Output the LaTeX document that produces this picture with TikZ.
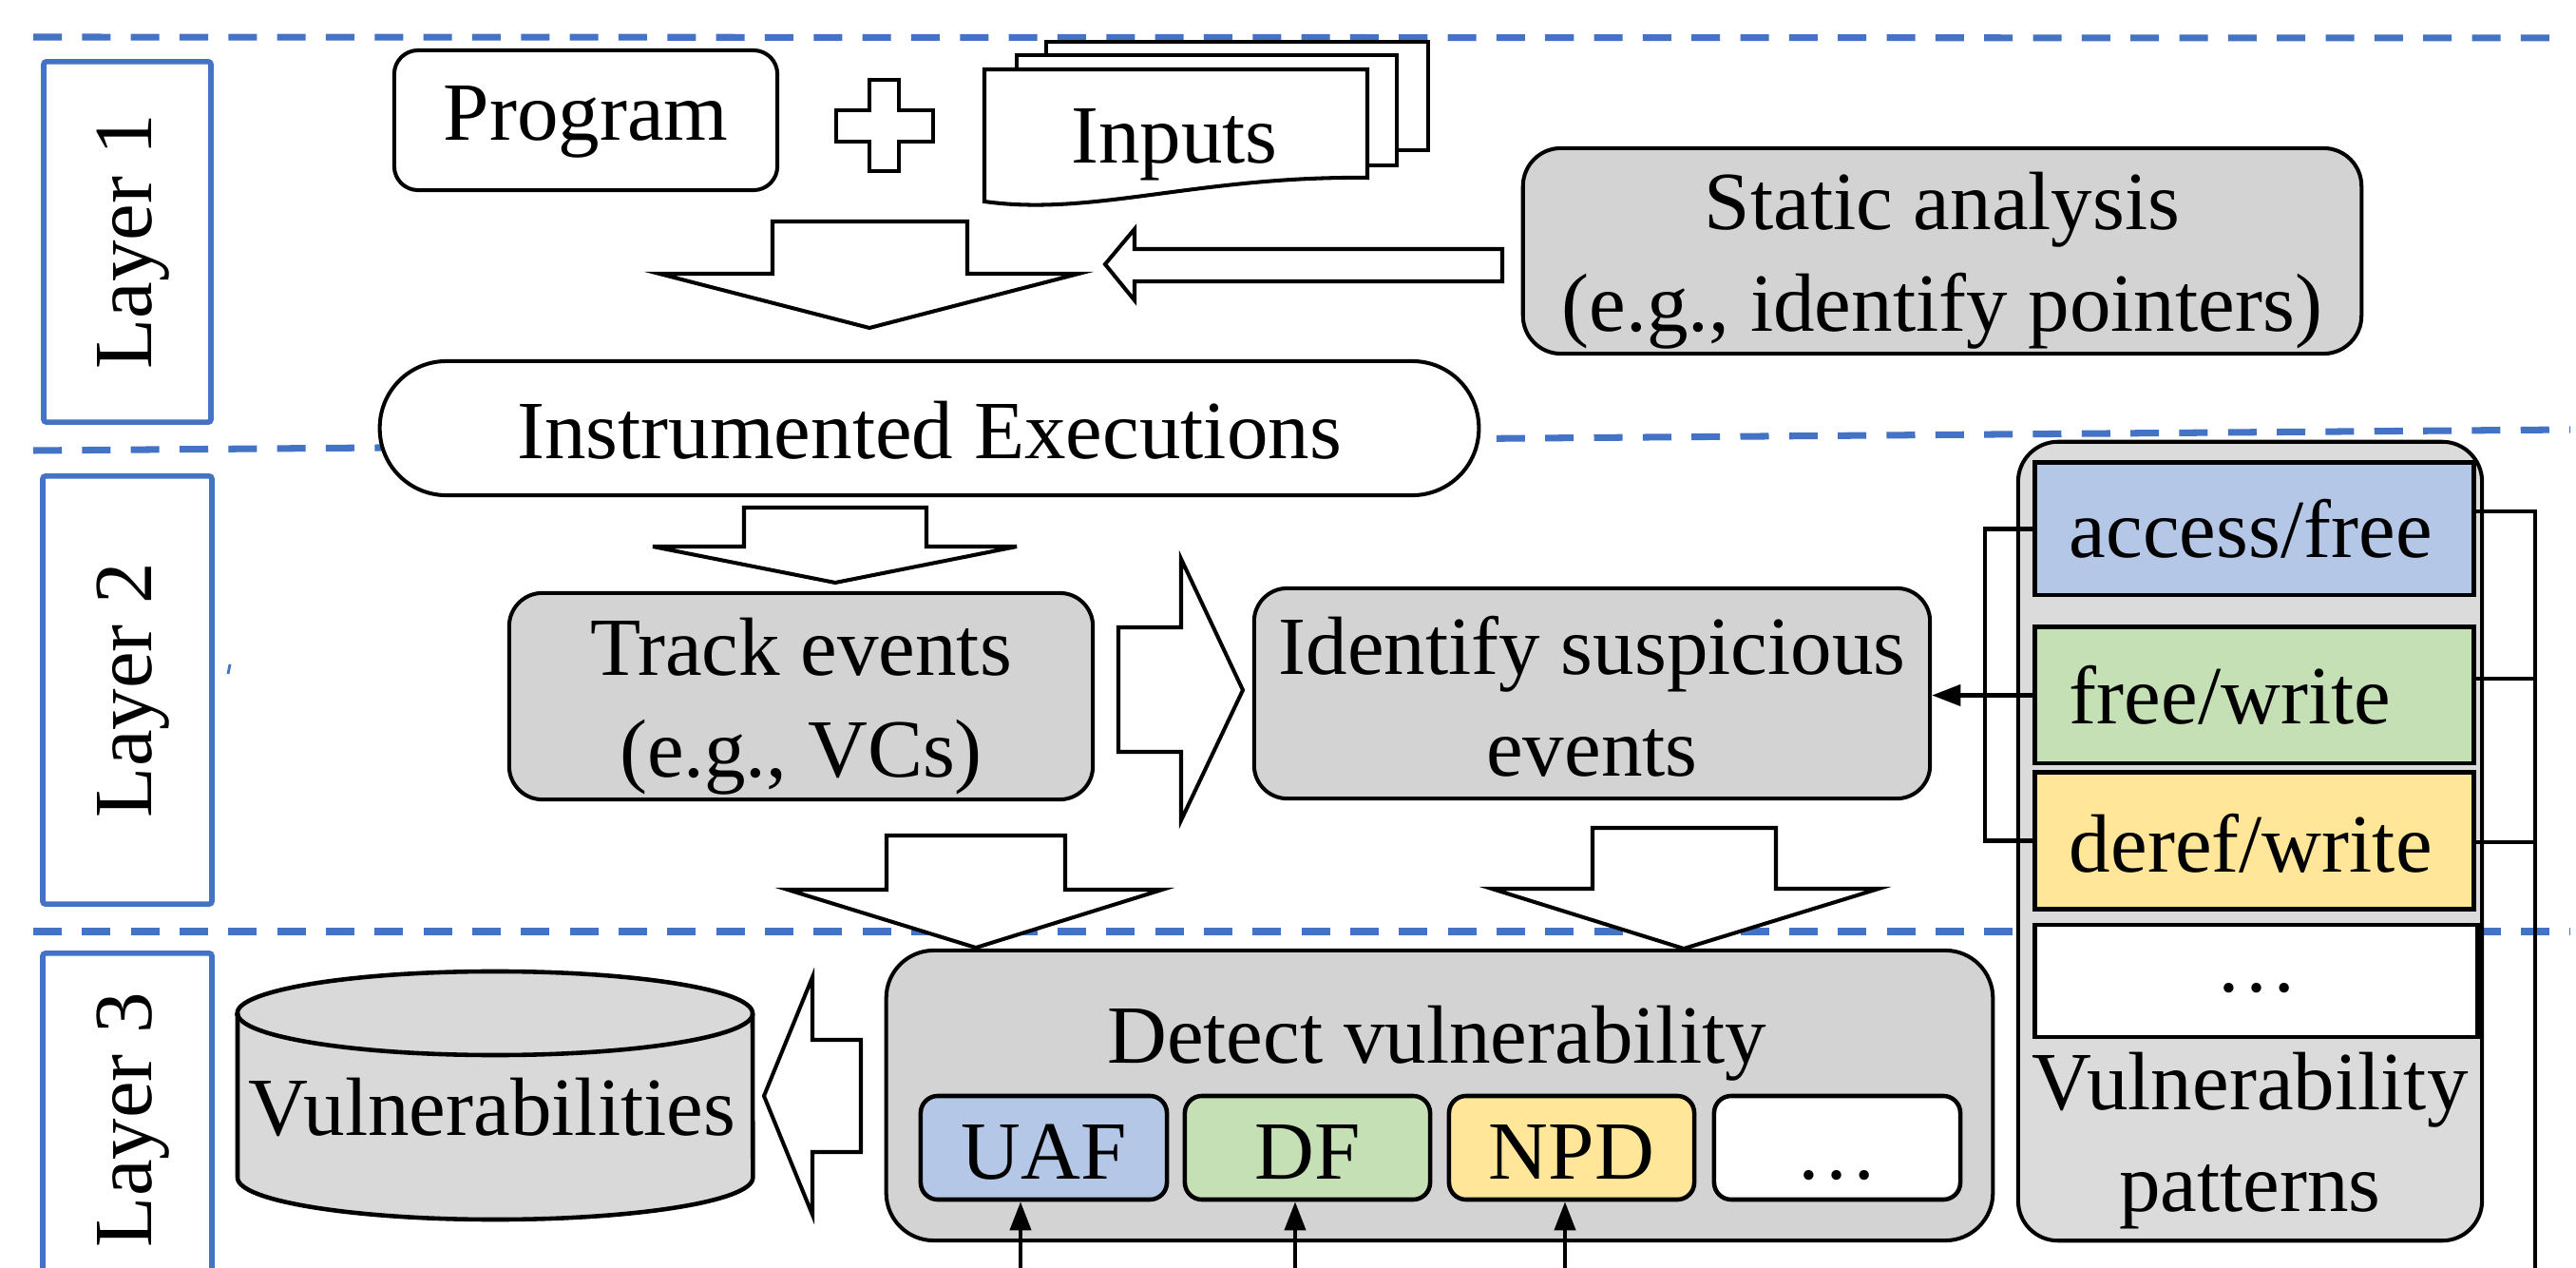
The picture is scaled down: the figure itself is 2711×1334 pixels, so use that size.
\documentclass[tikz,border=0pt]{standalone}
\usepackage{fontspec}
\setmainfont{Liberation Serif}
\usetikzlibrary{arrows.meta,calc}
\definecolor{lblue}{HTML}{4472C4}
\definecolor{bgray}{HTML}{D3D3D3}
\definecolor{cgray}{HTML}{D9D9D9}
\definecolor{pblue}{HTML}{B4C7E7}
\definecolor{pgreen}{HTML}{C5E0B4}
\definecolor{pyellow}{HTML}{FFE699}
\newcommand\twoline[3]{\rule{0pt}{#1}#2\\#3\rule[-0.24cm]{0pt}{0.24cm}}
\begin{document}
\begin{tikzpicture}[x=0.01cm,y=-0.01cm,
  font=\fontsize{24.75pt}{30.2pt}\selectfont,
  ln/.style={line width=1.15pt, line join=miter},
  sep/.style={draw=lblue, line width=2pt, dash pattern=on 0.3cm off 0.213cm},
  layerbox/.style={draw=lblue, line width=1.6pt, fill=white, rotate=90, inner sep=0pt, rounded corners=0.03cm, text height=0.7cm, text depth=0.2cm},
  wbox/.style={draw, line width=1.15pt, fill=white, inner sep=0pt, align=center},
  gbox/.style={draw, line width=1.15pt, fill=bgray, inner sep=0pt, align=center},
  pat/.style={draw, line width=1.4pt, inner sep=0pt, minimum width=4.61cm, text width=3.89cm, align=left, text height=0.7cm},
  sub/.style={draw, line width=1.3pt, rounded corners=0.18cm, inner sep=0pt, minimum width=2.58cm, minimum height=1.09cm, text height=0.7cm, text depth=0.05cm},
  blk/.style={draw, line width=1.15pt, fill=white, line join=miter},
  conn/.style={line width=1.15pt},
  arr/.style={-{Triangle[length=0.3cm,width=0.22cm]}},
]
\useasboundingbox (0,0) rectangle (2711,1334);
\fill[white] (0,0) rectangle (2711,1334);
\clip (0,0) rectangle (2711,1334);

% layer separators
\draw[sep] (35,39) -- (2700,40);
\draw[sep] (35,474) -- (2705,452);
\draw[sep] (35,980) -- (2705,980);
\draw[lblue, line width=0.8pt] (240,709) -- (242,699);

% layer labels
\node[layerbox, minimum width=3.79cm, minimum height=1.76cm] (L1) at (134,254.5) {Layer 1};
\node[layerbox, minimum width=4.50cm, minimum height=1.78cm] (L2) at (134,726) {Layer 2};
\node[layerbox, minimum width=3.50cm, minimum height=1.78cm] (L3) at (134,1178) {Layer 3};

% ---------- Layer 1 ----------
\node[wbox, rounded corners=0.25cm, minimum width=4.03cm, minimum height=1.47cm, text height=0.7cm, text depth=0.29cm] (prog) at (616.5,126.5) {Program};
\draw[blk] (915,84) -- (946,84) -- (946,116) -- (982,116) -- (982,149) -- (946,149) -- (946,180) -- (915,180) -- (915,149) -- (880,149) -- (880,116) -- (915,116) -- cycle;
\draw[ln, fill=white] (1101,44) rectangle (1503,158);
\draw[ln, fill=white] (1070,58) rectangle (1470,174);
\draw[ln, fill=white] (1036,73) -- (1439,73) -- (1439,187) .. controls (1260,185) and (1150,228) .. (1036,212) -- cycle;
\node[anchor=base, inner sep=0pt] (inp) at (1236,172) {Inputs};
\node[gbox, rounded corners=0.4cm, minimum width=8.82cm, minimum height=2.08cm] (stat) at (2044,264) {\twoline{0.86cm}{Static analysis}{(e.g., identify pointers)}};
\draw[blk] (813,233) -- (1018,233) -- (1018,288) -- (1135,288) -- (915,345) -- (694,288) -- (813,288) -- cycle;
\draw[blk] (1581,262) -- (1194,262) -- (1194,241) -- (1163,278) -- (1194,316) -- (1194,296) -- (1581,296) -- cycle;
\node[wbox, rounded corners=0.7cm, minimum width=11.56cm, minimum height=1.41cm, text height=0.7cm, text depth=0.07cm] (inst) at (978,450.5) {Instrumented Executions};

% ---------- Layer 2 ----------
\draw[blk] (783,534) -- (975,534) -- (975,575) -- (1070,575) -- (879,613) -- (687,575) -- (783,575) -- cycle;
\node[gbox, rounded corners=0.35cm, minimum width=6.14cm, minimum height=2.07cm] (track) at (843,732.5) {\twoline{0.87cm}{Track events}{(e.g., VCs)}};
\draw[blk] (1177,660) -- (1243,660) -- (1243,588) -- (1308,726) -- (1243,863) -- (1243,791) -- (1177,791) -- cycle;
\node[gbox, rounded corners=0.35cm, minimum width=7.11cm, minimum height=2.07cm] (ident) at (1675.5,729.5) {\twoline{0.91cm}{Identify suspicious}{events}};

% vulnerability patterns
\node[draw, line width=1.15pt, fill=bgray, fill opacity=0.8, rounded corners=0.42cm, minimum width=4.88cm, minimum height=8.40cm] (pc) at (2368,885) {};
\node[pat, fill=pblue, minimum height=1.39cm, text depth=0.11cm] (af) at (2372.5,556.5) {access/free};
\node[pat, fill=pgreen, minimum height=1.43cm, text depth=0.11cm] (fw) at (2372.5,731.5) {free/write};
\node[pat, fill=pyellow, minimum height=1.43cm, text depth=0.05cm] (dw) at (2372.5,884.5) {deref/write};
\node[draw, line width=1.4pt, fill=white, inner sep=0pt, minimum width=4.65cm, minimum height=1.0cm, text height=0.7cm, text depth=0.48cm] (pd) at (2374.5,1032) {…};
\node[align=center, inner sep=0pt] (pctxt) at (2368,1198) {\twoline{0.7cm}{Vulnerability}{patterns}};

% connectors of the patterns
\draw[conn, arr] (fw.west) -- (fw.west -| ident.east);
\draw[conn] (af.west) -- ++(-50,0) |- (dw.west);
\coordinate (rb) at (2668,1334);
\draw[conn] ([yshift=0.185cm]af.east) -| (rb);
\draw[conn] ([yshift=0.175cm]fw.east) -- ([yshift=0.175cm]fw.east -| rb);
\draw[conn] ([yshift=-0.015cm]dw.east) -- ([yshift=-0.015cm]dw.east -| rb);

% down arrows into layer 3
\draw[blk] (933,879) -- (1121,879) -- (1121,936) -- (1223,936) -- (1027,997) -- (829,936) -- (933,936) -- cycle;
\draw[blk] (1676,871) -- (1869,871) -- (1869,935) -- (1977,935) -- (1772,998) -- (1570,935) -- (1676,935) -- cycle;

% ---------- Layer 3 ----------
\path[draw, line width=1.3pt, fill=cgray] (250,1066) -- (250,1239) arc[start angle=180, end angle=360, x radius=2.71cm, y radius=0.44cm] -- (792,1066) arc[start angle=0, end angle=180, x radius=2.71cm, y radius=0.44cm] -- cycle;
\draw[line width=1.3pt] (250,1066) arc[start angle=180, end angle=360, x radius=2.71cm, y radius=0.44cm];
\node[anchor=base, inner sep=0pt] (vtxt) at (518,1195) {Vulnerabilities};
\draw[blk] (906,1094) -- (855,1094) -- (855,1028) -- (804,1153) -- (855,1278) -- (855,1212) -- (906,1212) -- cycle;

\node[gbox, rounded corners=0.5cm, minimum width=11.64cm, minimum height=3.05cm] (det) at (1515,1152.5) {};
\node[anchor=base, inner sep=0pt] (dettxt) at (1512,1118) {Detect vulnerability};
\node[sub, fill=pblue, minimum width=2.59cm] (uaf) at (1098.5,1207.5) {UAF};
\node[sub, fill=pgreen] (df) at (1376,1207.5) {DF};
\node[sub, fill=pyellow] (npd) at (1654,1207.5) {NPD};
\node[sub, fill=white, minimum width=2.59cm, text depth=0.04cm] (more) at (1933.5,1207.5) {…};

\coordinate (ua) at (1074,1334);
\coordinate (da) at (1363,1334);
\coordinate (na) at (1647,1334);
\draw[conn, arr] (ua) -- (ua |- uaf.south);
\draw[conn, arr] (da) -- (da |- df.south);
\draw[conn, arr] (na) -- (na |- npd.south);
\end{tikzpicture}
\end{document}
